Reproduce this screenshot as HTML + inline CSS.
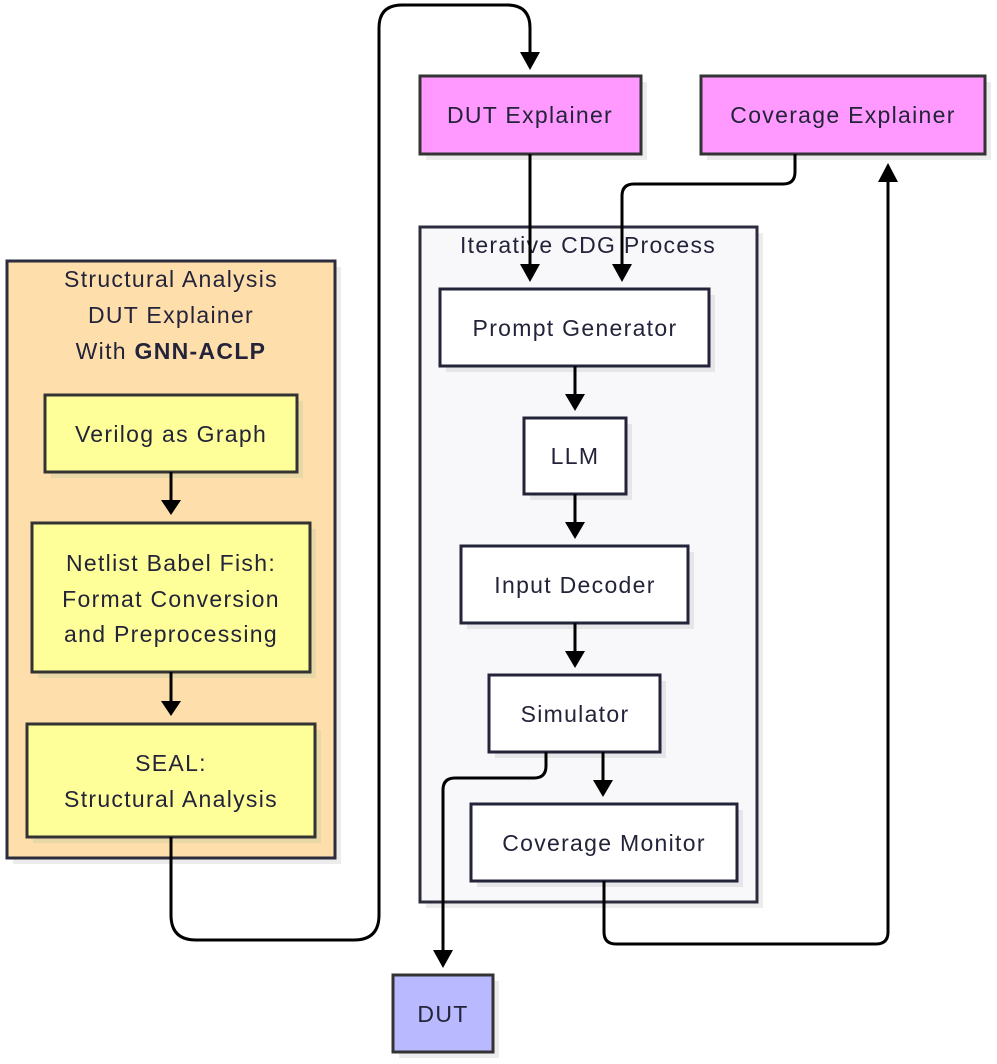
<!DOCTYPE html>
<html><head><meta charset="utf-8"><style>
html,body{margin:0;padding:0;background:#fff;}
svg{display:block;}
text{font-family:"Liberation Sans",sans-serif;font-size:23px;fill:#23233a;text-anchor:middle;letter-spacing:1.3px;}
</style></head><body>
<svg width="997" height="1064" viewBox="0 0 997 1064" xmlns="http://www.w3.org/2000/svg">
<!-- clusters -->
<rect x="13" y="267" width="328" height="597" fill="#ececec"/>
<rect x="7" y="261" width="328" height="597" fill="#fedfab" stroke="#2c2c3e" stroke-width="3"/>
<text x="171" y="287">Structural Analysis</text>
<text x="171" y="323">DUT Explainer</text>
<text x="171" y="359">With <tspan font-weight="bold">GNN-ACLP</tspan></text>

<rect x="426" y="233" width="337" height="675" fill="#ececec"/>
<rect x="420" y="227" width="337" height="675" fill="#f8f8fa" stroke="#2c2c3e" stroke-width="3"/>
<text x="588" y="253">Iterative CDG Process</text>

<!-- nodes -->
<g stroke-width="3">
<rect x="51" y="401" width="252" height="77" fill="#e8d8a8"/>
<rect x="45" y="395" width="252" height="77" fill="#ffff99" stroke="#333"/>
<rect x="38" y="529" width="278" height="149" fill="#e8d8a8"/>
<rect x="32" y="523" width="278" height="149" fill="#ffff99" stroke="#333"/>
<rect x="33" y="730" width="288" height="113" fill="#e8d8a8"/>
<rect x="27" y="724" width="288" height="113" fill="#ffff99" stroke="#333"/>

<rect x="426" y="82" width="221" height="78" fill="#ececec"/>
<rect x="420" y="76" width="221" height="78" fill="#ff99ff" stroke="#333"/>
<rect x="707" y="82" width="284" height="78" fill="#ececec"/>
<rect x="701" y="76" width="284" height="78" fill="#ff99ff" stroke="#333"/>

<rect x="446" y="295" width="269" height="77" fill="#e6e6e8"/>
<rect x="440" y="289" width="269" height="77" fill="#fff" stroke="#23233a"/>
<rect x="530" y="424" width="102" height="76" fill="#e6e6e8"/>
<rect x="524" y="418" width="102" height="76" fill="#fff" stroke="#23233a"/>
<rect x="467" y="552" width="227" height="77" fill="#e6e6e8"/>
<rect x="461" y="546" width="227" height="77" fill="#fff" stroke="#23233a"/>
<rect x="495" y="681" width="171" height="77" fill="#e6e6e8"/>
<rect x="489" y="675" width="171" height="77" fill="#fff" stroke="#23233a"/>
<rect x="477" y="810" width="266" height="77" fill="#e6e6e8"/>
<rect x="471" y="804" width="266" height="77" fill="#fff" stroke="#23233a"/>

<rect x="399" y="981" width="100" height="77" fill="#ececec"/>
<rect x="393" y="975" width="100" height="77" fill="#b9b9ff" stroke="#333"/>
</g>

<text x="171" y="442">Verilog as Graph</text>
<text x="171" y="571">Netlist Babel Fish:</text>
<text x="171" y="607">Format Conversion</text>
<text x="171" y="642">and Preprocessing</text>
<text x="171" y="771">SEAL:</text>
<text x="171" y="807">Structural Analysis</text>
<text x="530" y="123">DUT Explainer</text>
<text x="843" y="123">Coverage Explainer</text>
<text x="575" y="336">Prompt Generator</text>
<text x="575" y="464">LLM</text>
<text x="575" y="593">Input Decoder</text>
<text x="575" y="722">Simulator</text>
<text x="604" y="851">Coverage Monitor</text>
<text x="443" y="1022">DUT</text>

<!-- edges -->
<g fill="none" stroke="#000" stroke-width="3">
<path d="M171 472 V500"/>
<path d="M171 672 V701"/>
<path d="M171 837 V915 Q171 940 196 940 H354 Q379 940 379 915 V28 Q379 5 402 5 H507 Q530 5 530 28 V52"/>
<path d="M530 154 V266"/>
<path d="M795 154 V172 Q795 184 783 184 H634 Q622 184 622 196 V266"/>
<path d="M575 366 V395"/>
<path d="M575 494 V523"/>
<path d="M575 623 V652"/>
<path d="M603 752 V781"/>
<path d="M546 752 V766 Q546 778 534 778 H455 Q443 778 443 790 V953"/>
<path d="M604 881 V932 Q604 944 616 944 H876 Q888 944 888 932 V180"/>
</g>
<g fill="#000">
<polygon points="161,500 181,500 171,515"/>
<polygon points="161,701 181,701 171,716"/>
<polygon points="520,52 540,52 530,70"/>
<polygon points="520,264 540,264 530,282"/>
<polygon points="612,264 632,264 622,282"/>
<polygon points="565,394 585,394 575,411"/>
<polygon points="565,522 585,522 575,539"/>
<polygon points="565,651 585,651 575,668"/>
<polygon points="593,780 613,780 603,797"/>
<polygon points="433,950 453,950 443,968"/>
<polygon points="878,182 898,182 888,163"/>
</g>
</svg>
</body></html>
